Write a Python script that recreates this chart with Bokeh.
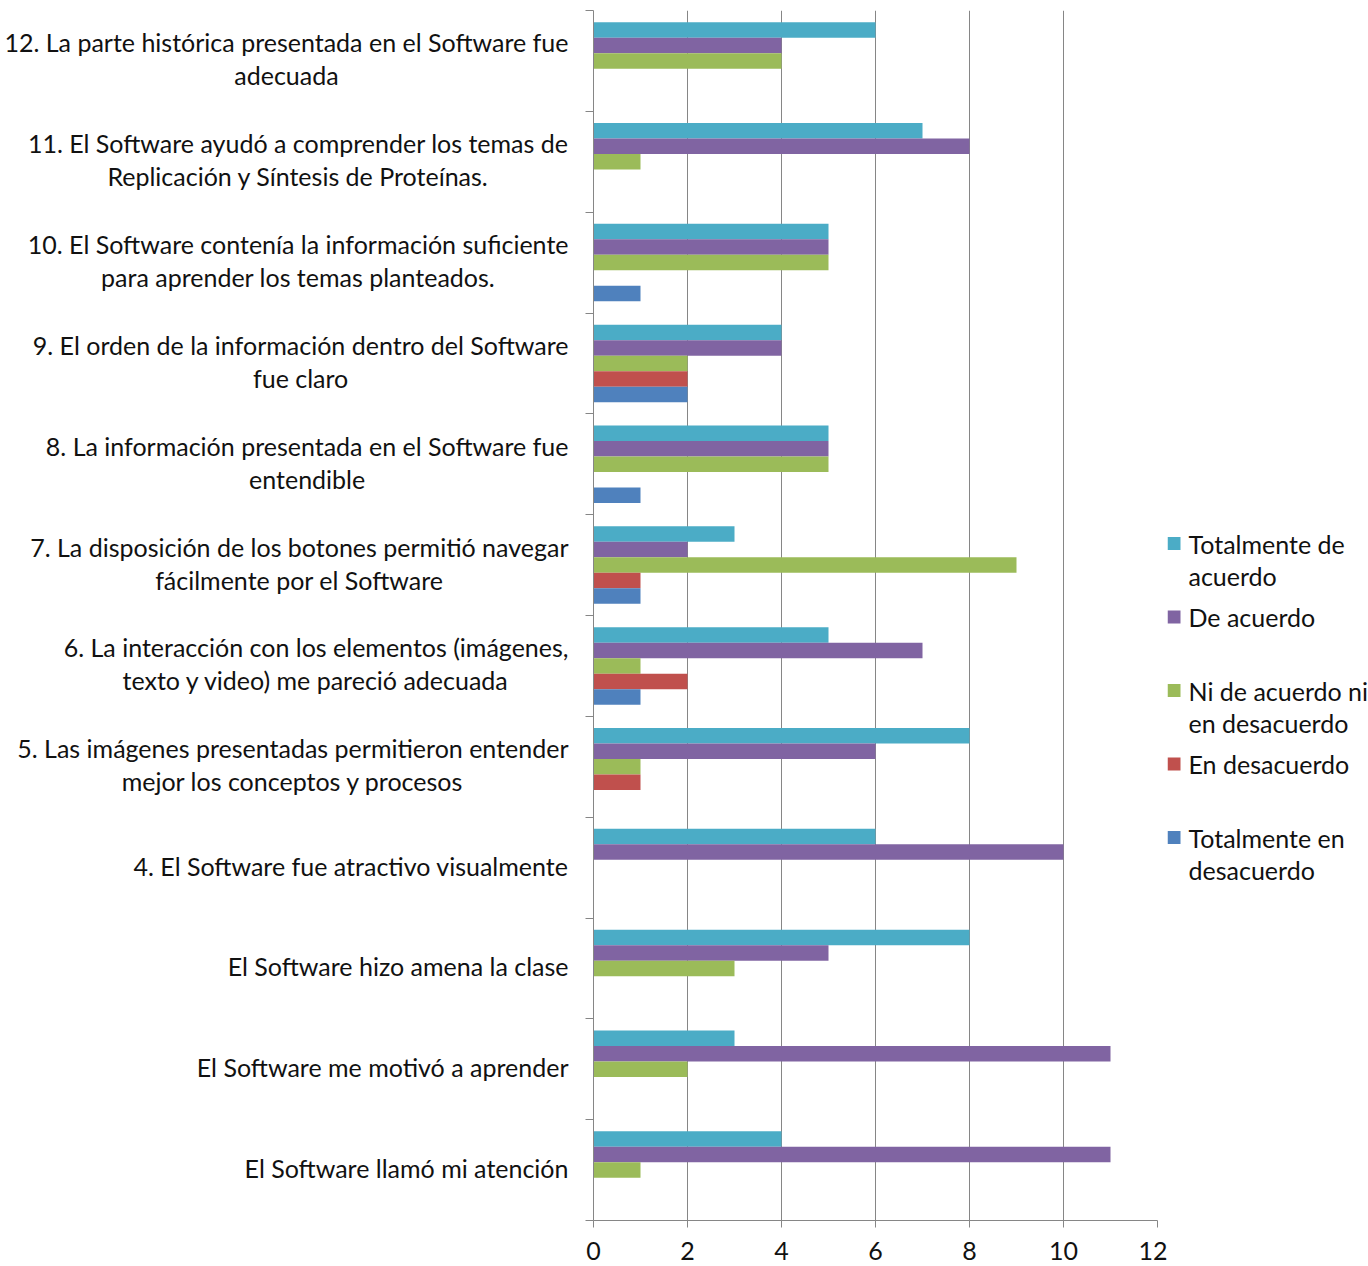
from bokeh.plotting import figure
from bokeh.models import Range1d, FixedTicker, ColumnDataSource
from bokeh.layouts import row
from bokeh.embed import file_html
from bokeh.resources import INLINE
from bokeh.core.properties import value

# Survey statements, listed top to bottom
questions = [
    "12. La parte histórica presentada en el Software fue\nadecuada",
    "11. El Software ayudó a comprender los temas de\nReplicación y Síntesis de Proteínas.",
    "10. El Software contenía la información suficiente\npara aprender los temas planteados.",
    "9. El orden de la información dentro del Software\nfue claro",
    "8. La información presentada en el Software fue\nentendible",
    "7. La disposición de los botones permitió navegar\nfácilmente por el Software",
    "6. La interacción con los elementos (imágenes,\ntexto y video) me pareció adecuada",
    "5. Las imágenes presentadas permitieron entender\nmejor los conceptos y procesos",
    "4. El Software fue atractivo visualmente",
    "El Software hizo amena la clase",
    "El Software me motivó a aprender",
    "El Software llamó mi atención",
]

# Response counts per statement (same order as questions)
totalmente_de_acuerdo = [6, 7, 5, 4, 5, 3, 5, 8, 6, 8, 3, 4]
de_acuerdo = [4, 8, 5, 4, 5, 2, 7, 6, 10, 5, 11, 11]
ni_de_acuerdo_ni_en_desacuerdo = [4, 1, 5, 2, 5, 9, 1, 1, 0, 3, 2, 1]
en_desacuerdo = [0, 0, 0, 2, 0, 1, 2, 1, 0, 0, 0, 0]
totalmente_en_desacuerdo = [0, 0, 1, 2, 1, 1, 1, 0, 0, 0, 0, 0]

series_names = [
    "Totalmente de\nacuerdo",
    "De acuerdo",
    "Ni de acuerdo ni\nen desacuerdo",
    "En desacuerdo",
    "Totalmente en\ndesacuerdo",
]
series_values = [
    totalmente_de_acuerdo,
    de_acuerdo,
    ni_de_acuerdo_ni_en_desacuerdo,
    en_desacuerdo,
    totalmente_en_desacuerdo,
]
colors = ["#4BACC6", "#8064A2", "#9BBB59", "#C0504D", "#4F81BD"]

x_ticks = [0, 2, 4, 6, 8, 10, 12]

FONT = "Lato"
FONT_SIZE = "25px"
AXIS_GRAY = "#868686"
TEXT_COLOR = "#111111"

n = len(questions)
bar_h = 1 / 6.5  # five bars plus a 150% gap per category
centers = [i + 0.5 for i in range(n)]

TOP, BOTTOM = 10, 46
LABEL_W = 572          # panel holding the statement texts
FRAME_LEFT = 593       # x position of the value axis
MAIN_W = 1167 - LABEL_W

y_range = Range1d(n, 0)

# ---- statement labels -------------------------------------------------
lab = figure(
    width=LABEL_W, height=1266,
    x_range=Range1d(0, LABEL_W), y_range=y_range,
    output_backend="svg", toolbar_location=None,
    x_axis_type=None, y_axis_type=None,
    min_border_left=0, min_border_right=0,
    min_border_top=TOP, min_border_bottom=BOTTOM,
)
lab.outline_line_color = None
lab.grid.grid_line_color = None
lab.text(x=LABEL_W - 4, y=centers, text=questions, y_offset=-2,
         anchor="center_right", text_align="center",
         text_font=value(FONT), text_font_size=FONT_SIZE,
         text_line_height=1.1, text_color=TEXT_COLOR)

# ---- bars ---------------------------------------------------------------
p = figure(
    width=MAIN_W, height=1266,
    x_range=Range1d(0, 12), y_range=y_range,
    output_backend="svg", toolbar_location=None,
    min_border_left=FRAME_LEFT - LABEL_W, min_border_right=1167 - 1157,
    min_border_top=TOP, min_border_bottom=BOTTOM,
)
p.outline_line_color = None
p.background_fill_color = "white"
p.border_fill_color = "white"

for k, (vals, color) in enumerate(zip(series_values, colors)):
    src = ColumnDataSource(dict(
        y=[c + (k - 2) * bar_h for c in centers],
        right=vals,
    ))
    p.hbar(y="y", left=0, right="right", height=bar_h, source=src,
           fill_color=color, line_color=None)

# x axis and vertical gridlines
p.xaxis.ticker = FixedTicker(ticks=x_ticks)
p.xaxis.axis_line_color = AXIS_GRAY
p.xaxis.major_tick_line_color = AXIS_GRAY
p.xaxis.major_tick_out = 7
p.xaxis.major_tick_in = 0
p.xaxis.minor_tick_line_color = None
p.xaxis.major_label_standoff = 14
p.xaxis.major_label_text_font = FONT
p.xaxis.major_label_text_font_size = FONT_SIZE
p.xaxis.major_label_text_color = TEXT_COLOR
p.xgrid.ticker = FixedTicker(ticks=x_ticks[1:])
p.xgrid.grid_line_color = AXIS_GRAY
p.ygrid.grid_line_color = None

# y axis: tick marks at category boundaries only
p.yaxis.ticker = FixedTicker(ticks=[], minor_ticks=list(range(n + 1)))
p.yaxis.axis_line_color = AXIS_GRAY
p.yaxis.major_tick_line_color = None
p.yaxis.major_tick_out = 0
p.yaxis.major_tick_in = 0
p.yaxis.minor_tick_line_color = AXIS_GRAY
p.yaxis.minor_tick_out = 8
p.yaxis.minor_tick_in = 0
p.yaxis.major_label_standoff = 0
p.yaxis.major_label_text_color = None

# ---- legend -------------------------------------------------------------
leg_w = 1368 - 1167
lg = figure(
    width=leg_w, height=1266,
    x_range=Range1d(0, leg_w), y_range=Range1d(1266 - BOTTOM, TOP),
    output_backend="svg", toolbar_location=None,
    x_axis_type=None, y_axis_type=None,
    min_border_left=0, min_border_right=0,
    min_border_top=TOP, min_border_bottom=BOTTOM,
)
lg.outline_line_color = None
lg.grid.grid_line_color = None

first_y = 543
step = 73.5
line_gap = 32
sq_y = [first_y + k * step for k in range(len(series_names))]
lg.rect(x=6.5, y=sq_y, width=13, height=13, fill_color=colors, line_color=None)

tx, ty, tt = [], [], []
for k, name in enumerate(series_names):
    for j, line in enumerate(name.split("\n")):
        tx.append(21)
        ty.append(sq_y[k] + j * line_gap)
        tt.append(line)
lg.text(x=tx, y=ty, text=tt, text_font=value(FONT), text_font_size=FONT_SIZE,
        text_baseline="middle", text_align="left", text_color=TEXT_COLOR)

layout = row(lab, p, lg)
open("out.html", "w").write(file_html(layout, INLINE))
